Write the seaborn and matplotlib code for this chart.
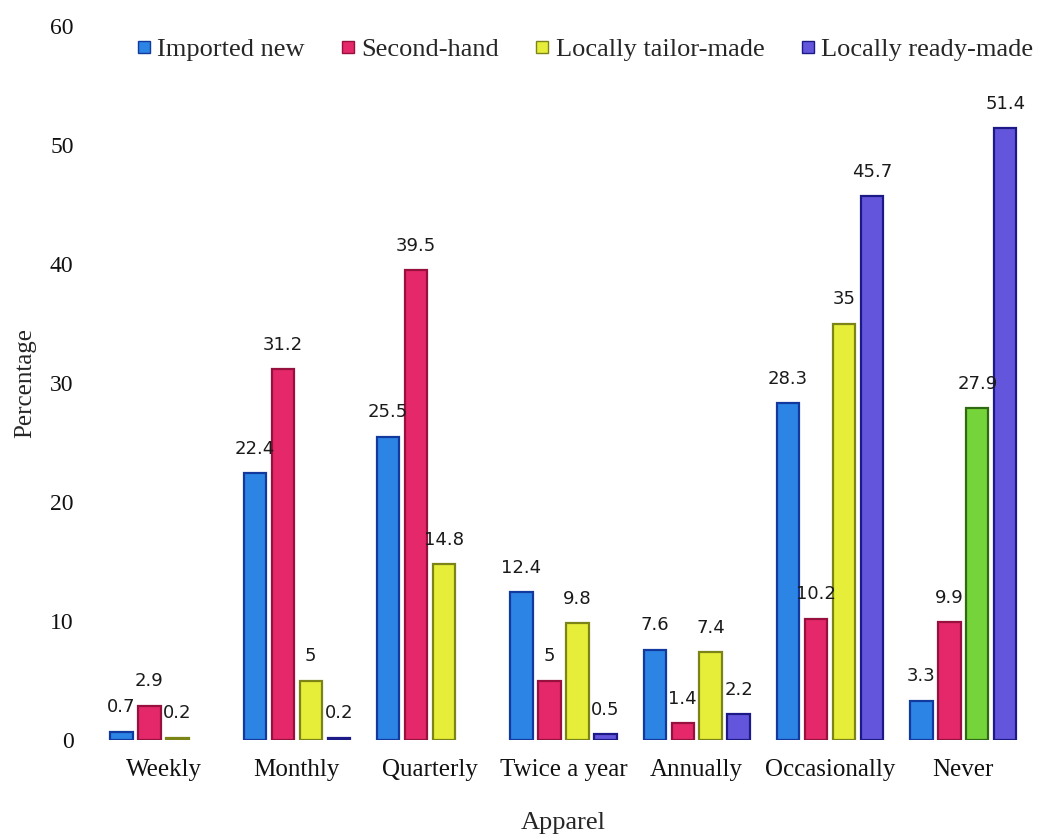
import numpy as np
import pandas as pd
import matplotlib
matplotlib.use("Agg")
import matplotlib.pyplot as plt
import seaborn as sns

frequencies = ["Weekly", "Monthly", "Quarterly", "Twice a year", "Annually", "Occasionally", "Never"]
sources = ["Imported new", "Second-hand", "Locally tailor-made", "Locally ready-made"]

imported_new = [0.7, 22.4, 25.5, 12.4, 7.6, 28.3, 3.3]
second_hand = [2.9, 31.2, 39.5, 5, 1.4, 10.2, 9.9]
tailor_made = [0.2, 5, 14.8, 9.8, 7.4, 35, 27.9]
ready_made = [np.nan, 0.2, np.nan, 0.5, 2.2, 45.7, 51.4]

series = [imported_new, second_hand, tailor_made, ready_made]
fill_colors = ["#2c84e4", "#e4286a", "#e6ee3a", "#6456dc"]
edge_colors = ["#123a9e", "#98103e", "#7c8418", "#1c1a86"]

rows = []
for src, vals in zip(sources, series):
    for freq, v in zip(frequencies, vals):
        # missing responses are drawn as empty (zero-height) slots
        rows.append({"Apparel": freq, "Source": src,
                     "Percentage": 0.0 if np.isnan(v) else v})
df = pd.DataFrame(rows)

sns.set_theme(style="white")
plt.rcParams["font.family"] = ["Liberation Serif", "DejaVu Serif"]

fig = plt.figure(figsize=(10.5, 8.34), dpi=100)
ax = fig.add_axes([0.078, 0.1127, 0.917, 0.856])

sns.barplot(data=df, x="Apparel", y="Percentage", hue="Source",
            order=frequencies, hue_order=sources, palette=fill_colors,
            width=0.84, gap=0.2, ax=ax, legend=False, linewidth=1.6)

for i, cont in enumerate(ax.containers):
    vals = series[i]
    for j, patch in enumerate(cont.patches):
        patch.set_edgecolor(edge_colors[i])
        patch.set_facecolor(fill_colors[i])
        if np.isnan(vals[j]):
            patch.set_linewidth(0)
        if i == 2 and frequencies[j] == "Never":
            patch.set_facecolor("#74d43a")
            patch.set_edgecolor("#2f6a10")
    labels = ["" if np.isnan(v) else f"{v:g}" for v in vals]
    ax.bar_label(cont, labels=labels, padding=11, fontsize=13,
                 family="DejaVu Sans", color="#1a1a1a")

ax.set_ylim(0, 60)
ax.set_xlim(-0.612, 6.611)
ax.set_yticks(range(0, 61, 10))
ax.tick_params(axis="y", labelsize=17, colors="#111111", length=0, pad=6)
ax.tick_params(axis="x", labelsize=18, colors="#111111", length=0, pad=14)
for s in ax.spines.values():
    s.set_visible(False)
ax.set_ylabel("Percentage", fontsize=18, labelpad=10)
ax.set_xlabel("Apparel", fontsize=19, labelpad=22)

handles = [plt.Line2D([0], [0], marker="s", linestyle="", markersize=8,
                      markerfacecolor=fill_colors[k], markeredgecolor=edge_colors[k])
           for k in range(4)]
fig.legend(handles, sources, loc="center", bbox_to_anchor=(0.556, 0.941),
           ncol=4, frameon=False, fontsize=19, handletextpad=0.15,
           columnspacing=1.3, handlelength=0.7)

fig.savefig("out.png", dpi=100)
